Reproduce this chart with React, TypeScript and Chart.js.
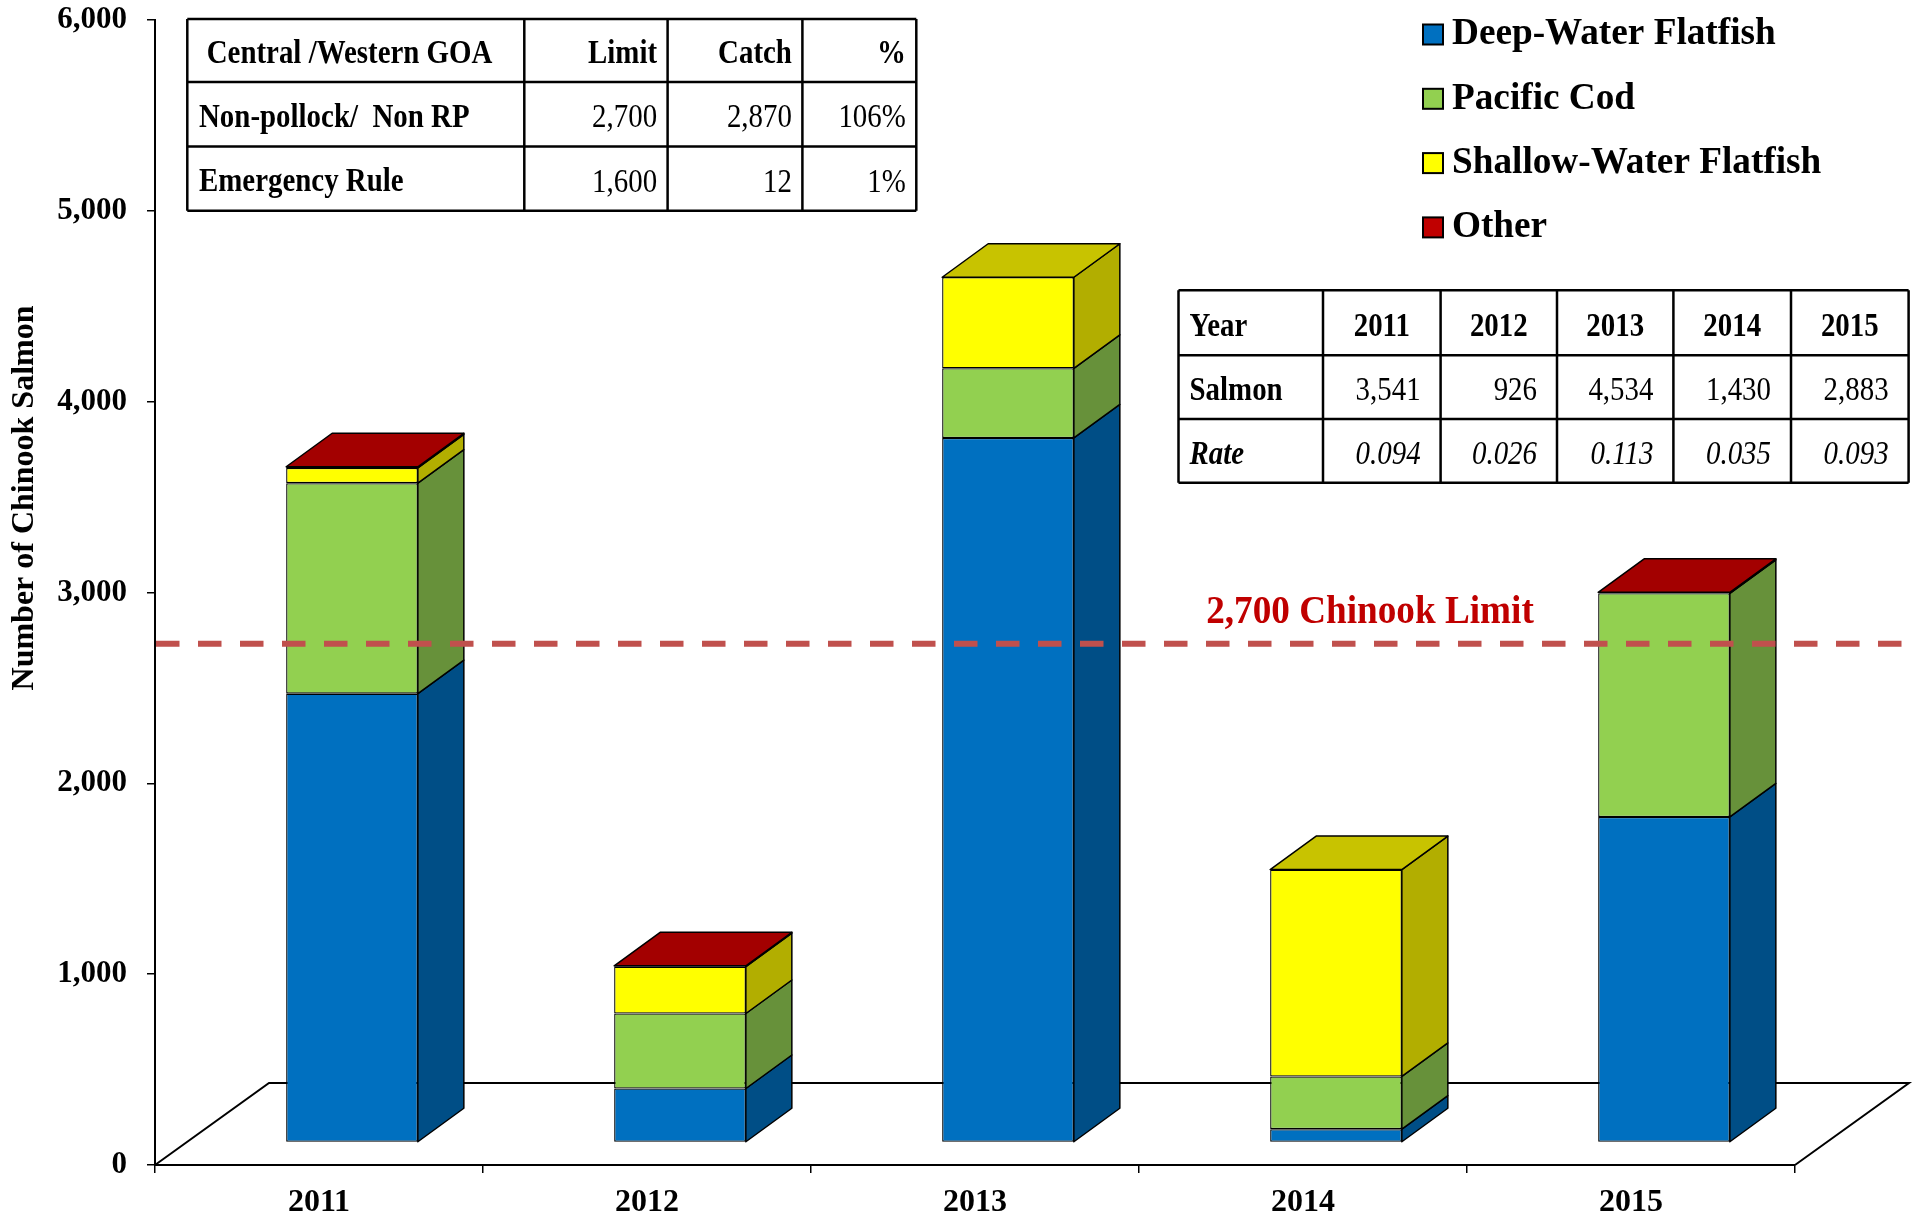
import React, { useEffect, useRef } from 'react';
import { Chart, registerables } from 'chart.js';

Chart.register(...registerables);

// ---------- data ----------
const YEARS = ['2011', '2012', '2013', '2014', '2015'];
const DEEP_WATER_FLATFISH = [2352, 283, 3692, 70, 1706];
const PACIFIC_COD = [1103, 393, 365, 276, 1172];
const SHALLOW_WATER_FLATFISH = [80, 245, 477, 1084, 0];
const OTHER = [6, 5, 0, 0, 5];
const SERIES_NAMES = ['Deep-Water Flatfish', 'Pacific Cod', 'Shallow-Water Flatfish', 'Other'];

const Y_MIN = 0;
const Y_MAX = 6000;
const Y_STEP = 1000;
const Y_TITLE = 'Number of Chinook Salmon';

const CHINOOK_LIMIT = 2700;
const LIMIT_LABEL = '2,700 Chinook Limit';

const GOA_HEADER = ['Central /Western GOA', 'Limit', 'Catch', '%'];
const GOA_ROW_LABELS = ['Non-pollock/  Non RP', 'Emergency Rule'];
const GOA_LIMIT = ['2,700', '1,600'];
const GOA_CATCH = ['2,870', '12'];
const GOA_PCT = ['106%', '1%'];

const SALMON_TOTALS = ['3,541', '926', '4,534', '1,430', '2,883'];
const SALMON_RATES = ['0.094', '0.026', '0.113', '0.035', '0.093'];

// ---------- style ----------
const FONT = "'Liberation Serif', 'Times New Roman', serif";
const FRONT = ['#0070C0', '#92D050', '#FFFF00', '#C00000'];
const SIDE = ['#004E86', '#67913A', '#B2AE00', '#8C0000'];
const TOP = ['#005DA0', '#7DB544', '#C8C300', '#A30000'];
const G = { shiftX: 33, shiftY: 22.5, depthX: 46, depthY: 33.5, floorX: 114, floorY: 82 };

function poly(ctx: CanvasRenderingContext2D, pts: number[][], fill: string) {
  ctx.beginPath();
  ctx.moveTo(pts[0][0], pts[0][1]);
  for (let i = 1; i < pts.length; i++) ctx.lineTo(pts[i][0], pts[i][1]);
  ctx.closePath();
  ctx.fillStyle = fill;
  ctx.fill();
  ctx.lineWidth = 1.5;
  ctx.lineJoin = 'round';
  ctx.strokeStyle = '#000';
  ctx.stroke();
}

function text(
  ctx: CanvasRenderingContext2D,
  s: string,
  x: number,
  y: number,
  font: string,
  align: CanvasTextAlign,
  sx = 1,
  color = '#000'
) {
  ctx.save();
  ctx.font = font;
  ctx.fillStyle = color;
  ctx.textBaseline = 'middle';
  ctx.textAlign = align;
  ctx.translate(x, y);
  ctx.scale(sx, 1);
  ctx.fillText(s, 0, 0);
  ctx.restore();
}

function grid(ctx: CanvasRenderingContext2D, cols: number[], rows: number[]) {
  ctx.save();
  ctx.strokeStyle = '#000';
  ctx.lineWidth = 2.5;
  ctx.fillStyle = '#fff';
  const l = cols[0], r = cols[cols.length - 1], t = rows[0], b = rows[rows.length - 1];
  ctx.fillRect(l, t, r - l, b - t);
  ctx.beginPath();
  cols.forEach((c) => { ctx.moveTo(c, t); ctx.lineTo(c, b); });
  rows.forEach((rw) => { ctx.moveTo(l, rw); ctx.lineTo(r, rw); });
  ctx.stroke();
  ctx.restore();
}

const threeD = {
  id: 'threeD',
  beforeDatasetsDraw(chart: any) {
    const { ctx, chartArea: a } = chart;
    ctx.save();
    ctx.strokeStyle = '#000';
    ctx.lineWidth = 2;
    ctx.beginPath();
    ctx.moveTo(a.left, a.bottom);
    ctx.lineTo(a.left + G.floorX, a.bottom - G.floorY);
    ctx.lineTo(a.right + G.floorX, a.bottom - G.floorY);
    ctx.lineTo(a.right, a.bottom);
    ctx.stroke();
    ctx.restore();
    ctx.save();
    ctx.translate(G.shiftX, -G.shiftY);
  },
  afterDatasetsDraw(chart: any) {
    const ctx = chart.ctx as CanvasRenderingContext2D;
    const n = chart.data.labels.length;
    const tops: any[] = new Array(n).fill(null);
    chart.data.datasets.forEach((ds: any, di: number) => {
      const meta = chart.getDatasetMeta(di);
      meta.data.forEach((el: any, j: number) => {
        const v = ds.data[j];
        if (!v) return;
        const { x, y, base, width } = el.getProps(['x', 'y', 'base', 'width'], true);
        const r = x + width / 2;
        poly(ctx, [[r, y], [r + G.depthX, y - G.depthY], [r + G.depthX, base - G.depthY], [r, base]], SIDE[di]);
        tops[j] = { x, y, width, di };
      });
    });
    tops.forEach((t) => {
      if (!t) return;
      const l = t.x - t.width / 2;
      const r = t.x + t.width / 2;
      poly(ctx, [[l, t.y], [l + G.depthX, t.y - G.depthY], [r + G.depthX, t.y - G.depthY], [r, t.y]], TOP[t.di]);
    });
    ctx.restore();
  },
  afterDraw(chart: any) {
    const ctx = chart.ctx as CanvasRenderingContext2D;
    const a = chart.chartArea;
    const yS = chart.scales.y;

    // limit line
    const ly = yS.getPixelForValue(CHINOOK_LIMIT) - 6;
    ctx.save();
    ctx.strokeStyle = '#C0504D';
    ctx.lineWidth = 6;
    ctx.setLineDash([23.5, 18.5]);
    ctx.beginPath();
    ctx.moveTo(a.left + 1, ly);
    ctx.lineTo(a.right + 110, ly);
    ctx.stroke();
    ctx.restore();
    text(ctx, LIMIT_LABEL, 1370, ly - 31, `bold 40px ${FONT}`, 'center', 0.93, '#C00000');

    // GOA table
    const c1 = [187.3, 524.3, 667.6, 802.4, 916.3];
    const r1 = [19, 82, 146.5, 210.7];
    grid(ctx, c1, r1);
    const bold1 = `bold 34px ${FONT}`;
    const reg1 = `34px ${FONT}`;
    const sx = 0.85;
    const mid = (i: number, rows: number[]) => (rows[i] + rows[i + 1]) / 2 + 4;
    text(ctx, GOA_HEADER[0], 206.7, mid(0, r1), bold1, 'left', sx);
    for (let k = 1; k < 4; k++) text(ctx, GOA_HEADER[k], c1[k + 1] - 10.5, mid(0, r1), bold1, 'right', sx);
    GOA_ROW_LABELS.forEach((lab, i) => {
      const yy = mid(i + 1, r1);
      text(ctx, lab, 199, yy, bold1, 'left', sx);
      text(ctx, GOA_LIMIT[i], c1[2] - 10.5, yy, reg1, 'right', sx);
      text(ctx, GOA_CATCH[i], c1[3] - 10.5, yy, reg1, 'right', sx);
      text(ctx, GOA_PCT[i], c1[4] - 10.5, yy, reg1, 'right', sx);
    });

    // salmon table
    const c2 = [1178.5, 1323, 1440.6, 1557, 1673.4, 1791, 1908.6];
    const r2 = [290.3, 355.3, 419, 482.7];
    grid(ctx, c2, r2);
    text(ctx, 'Year', 1189.5, mid(0, r2), bold1, 'left', sx);
    text(ctx, 'Salmon', 1189.5, mid(1, r2), bold1, 'left', sx);
    text(ctx, 'Rate', 1189.5, mid(2, r2), `italic bold 34px ${FONT}`, 'left', sx);
    YEARS.forEach((yr, i) => {
      text(ctx, yr, (c2[i + 1] + c2[i + 2]) / 2, mid(0, r2), bold1, 'center', sx);
      text(ctx, SALMON_TOTALS[i], c2[i + 2] - 20, mid(1, r2), reg1, 'right', sx);
      text(ctx, SALMON_RATES[i], c2[i + 2] - 20, mid(2, r2), `italic 34px ${FONT}`, 'right', sx);
    });

    // legend
    SERIES_NAMES.forEach((name, i) => {
      const cy = 34.5 + i * 64.3;
      ctx.save();
      ctx.fillStyle = FRONT[i];
      ctx.fillRect(1423, cy - 10, 20, 20);
      ctx.strokeStyle = '#000';
      ctx.lineWidth = 2;
      ctx.strokeRect(1423, cy - 10, 20, 20);
      ctx.restore();
      text(ctx, name, 1452, cy, `bold 38px ${FONT}`, 'left', 0.98);
    });

    // y title
    ctx.save();
    ctx.translate(24.5, 498);
    ctx.rotate(-Math.PI / 2);
    text(ctx, Y_TITLE, 0, 0, `bold 32px ${FONT}`, 'center', 1);
    ctx.restore();
  },
};

export default function App() {
  const ref = useRef<HTMLCanvasElement>(null);
  useEffect(() => {
    document.body.style.margin = '0';
    const canvas = ref.current as HTMLCanvasElement;
    const seriesValues = [DEEP_WATER_FLATFISH, PACIFIC_COD, SHALLOW_WATER_FLATFISH, OTHER];
    const chart = new Chart(canvas, {
      type: 'bar',
      data: {
        labels: YEARS,
        datasets: seriesValues.map((vals, i) => ({
          label: SERIES_NAMES[i],
          data: vals,
          backgroundColor: FRONT[i],
          borderColor: '#000',
          borderWidth: 1.3,
          borderSkipped: false,
          categoryPercentage: 1,
          barPercentage: 0.4015,
        })),
      },
      options: {
        responsive: false,
        maintainAspectRatio: false,
        devicePixelRatio: 1,
        animation: false,
        layout: { padding: { top: 20, right: 126, bottom: 0, left: 0 } },
        plugins: { legend: { display: false }, tooltip: { enabled: false } },
        scales: {
          x: {
            stacked: true,
            afterFit: (s: any) => { s.height = 53; s.paddingLeft = 0; s.paddingRight = 0; },
            grid: { offset: true, drawOnChartArea: false, drawTicks: true, tickLength: 8, color: '#000', lineWidth: 1.5 },
            border: { display: true, color: '#000', width: 2 },
            ticks: { color: '#000', padding: 11, font: { family: FONT, size: 32, weight: 'bold' } },
          },
          y: {
            stacked: true,
            min: Y_MIN,
            max: Y_MAX,
            afterFit: (s: any) => { s.width = 155; s.paddingTop = 0; s.paddingBottom = 0; },
            grid: { drawOnChartArea: false, drawTicks: true, tickLength: 8, color: '#000', lineWidth: 1.5 },
            border: { display: true, color: '#000', width: 2 },
            ticks: {
              stepSize: Y_STEP,
              color: '#000',
              padding: 20,
              font: { family: FONT, size: 31, weight: 'bold' },
              callback: (v: any) => Number(v).toLocaleString('en-US'),
            },
          },
        },
      } as any,
      plugins: [threeD],
    });
    return () => chart.destroy();
  }, []);
  return (
    <div style={{ width: 1921, height: 1218, background: '#fff' }}>
      <canvas ref={ref} width={1921} height={1218} style={{ display: 'block' }} />
    </div>
  );
}
